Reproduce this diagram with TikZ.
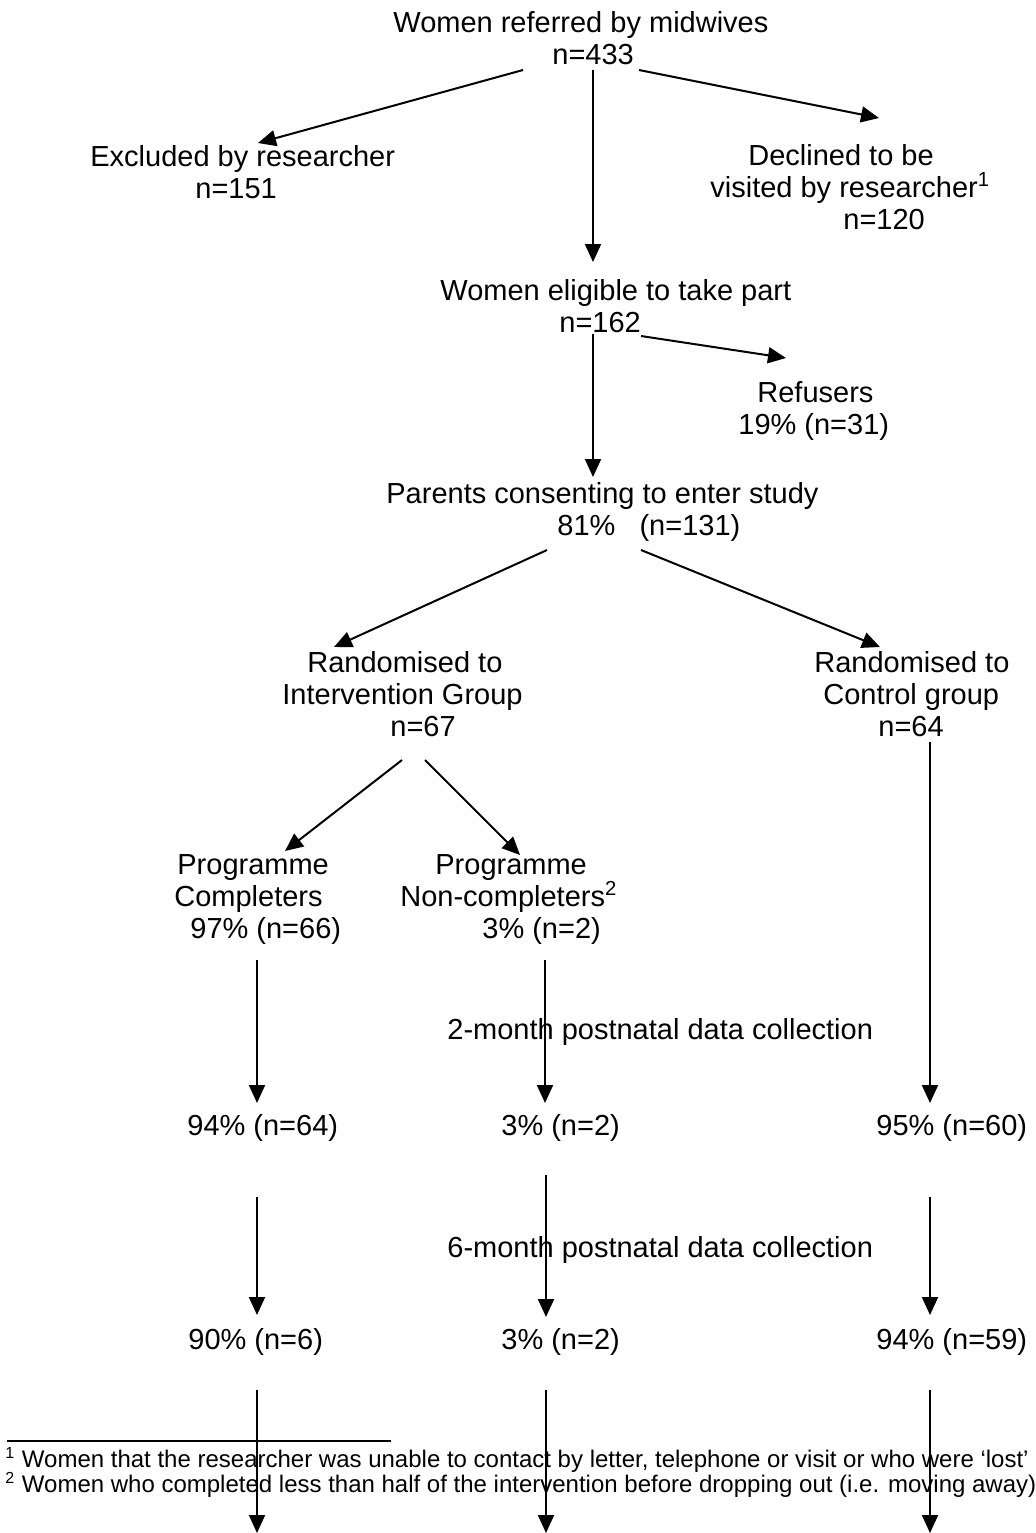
\documentclass[tikz,border=0pt]{standalone}
\usepackage{fontspec}
\setmainfont{Liberation Sans}
\usetikzlibrary{arrows.meta}
\tikzset{
    lbl/.style={anchor=north west, inner sep=0pt, align=left, font=\fontsize{14.5}{16}\selectfont},
    arr/.style={-{Triangle[length=9pt, width=8pt]}, line width=1pt},
    fnote/.style={anchor=base west, inner sep=0pt, font=\fontsize{12}{12}\selectfont}
}
\begin{document}
\begin{tikzpicture}[x=0.5pt, y=-0.5pt]
    \useasboundingbox (0,0) rectangle (1035,1533);
    % draw the texts of the flow
    \node[lbl] (referred) at (393,11) {Women referred by midwives\\\hspace*{79.5pt}n=433};
    \node[lbl] (excluded) at (90,145) {Excluded by researcher\\\hspace*{52.5pt}n=151};
    \node[lbl] (declined) at (710,144) {\hspace*{19pt}Declined to be\\visited by researcher\textsuperscript{1}\\\hspace*{66.5pt}n=120};
    \node[lbl] (eligible) at (440,279) {Women eligible to take part\\\hspace*{59.5pt}n=162};
    \node[lbl] (refusers) at (738,381) {\hspace*{9.5pt}Refusers\\19\% (n=31)};
    \node[lbl] (consent) at (386,482) {Parents consenting to enter study\\\hspace*{85.5pt}81\%\ \ \ (n=131)};
    \node[lbl] (interv) at (282,651) {\hspace*{12.5pt}Randomised to\\Intervention Group\\\hspace*{54pt}n=67};
    \node[lbl] (control) at (814,651) {Randomised to\\\hspace*{4.5pt}Control group\\\hspace*{32pt}n=64};
    \node[lbl] (completers) at (174,854) {\hspace*{1.5pt}Programme\\Completers\\\hspace*{8pt}97\% (n=66)};
    \node[lbl] (noncompl) at (400,854) {\hspace*{17.5pt}Programme\\Non-completers\textsuperscript{2}\\\hspace*{41pt}3\% (n=2)};
    \node[lbl] (twomonth) at (447,1018) {2-month postnatal data collection};
    \node[lbl] (compA) at (187,1114) {94\% (n=64)};
    \node[lbl] (noncA) at (501,1114) {3\% (n=2)};
    \node[lbl] (ctrlA) at (876,1114) {95\% (n=60)};
    \node[lbl] (sixmonth) at (447,1236) {6-month postnatal data collection};
    \node[lbl] (compB) at (188,1328) {90\% (n=6)};
    \node[lbl] (noncB) at (501,1328) {3\% (n=2)};
    \node[lbl] (ctrlB) at (876,1328) {94\% (n=59)};
    % free ends of the last arrows
    \coordinate (endA) at (257,1533);
    \coordinate (endB) at (546,1533);
    \coordinate (endC) at (930,1533);
    % draw the arrows
    \draw[arr] ([shift={(130,59)}]referred.north west) -- ([shift={(168,-2)}]excluded.north west);
    \draw[arr] ([shift={(200,59)}]referred.north west) -- ([shift={(153,-17)}]eligible.north west);
    \draw[arr] ([shift={(246,59)}]referred.north west) -- ([shift={(169,-26)}]declined.north west);
    \draw[arr] ([shift={(201,57)}]eligible.north west) -- ([shift={(48,-23)}]refusers.north west);
    \draw[arr] ([shift={(153,55)}]eligible.north west) -- ([shift={(207,-5)}]consent.north west);
    \draw[arr] ([shift={(161,68)}]consent.north west) -- ([shift={(52,-4)}]interv.north west);
    \draw[arr] ([shift={(255,68)}]consent.north west) -- ([shift={(66,-4)}]control.north west);
    \draw[arr] ([shift={(120,109)}]interv.north west) -- ([shift={(111,-3)}]completers.north west);
    \draw[arr] ([shift={(143,109)}]interv.north west) -- ([shift={(120,1)}]noncompl.north west);
    \draw[arr] ([shift={(116,91)}]control.north west) -- ([shift={(54,-11)}]ctrlA.north west);
    \draw[arr] ([shift={(83,106)}]completers.north west) -- ([shift={(70,-11)}]compA.north west);
    \draw[arr] ([shift={(145,106)}]noncompl.north west) -- ([shift={(44,-11)}]noncA.north west);
    \draw[arr] ([shift={(70,83)}]compA.north west) -- ([shift={(69,-13)}]compB.north west);
    \draw[arr] ([shift={(45,61)}]noncA.north west) -- ([shift={(45,-11)}]noncB.north west);
    \draw[arr] ([shift={(54,83)}]ctrlA.north west) -- ([shift={(54,-13)}]ctrlB.north west);
    \draw[arr] ([shift={(69,62)}]compB.north west) -- (endA);
    \draw[arr] ([shift={(45,62)}]noncB.north west) -- (endB);
    \draw[arr] ([shift={(54,62)}]ctrlB.north west) -- (endC);
    % footnotes
    \draw[line width=0.8pt] (7,1441) -- (391,1441);
    \node[fnote] (fnone) at (5,1467) {\textsuperscript{1} Women that the researcher was unable to contact by letter, telephone or visit or who were `lost'};
    \node[fnote] (fntwo) at (5,1492) {\textsuperscript{2} Women who completed less than half of the intervention before dropping out (i.e. moving away)};
\end{tikzpicture}
\end{document}
